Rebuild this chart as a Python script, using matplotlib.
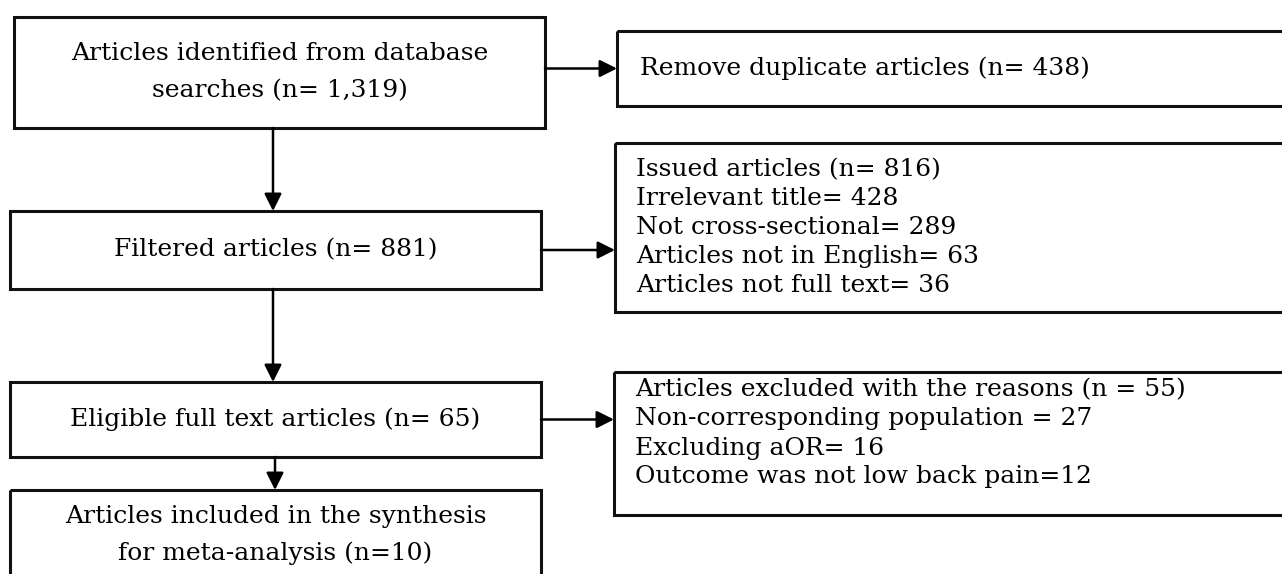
import matplotlib.pyplot as plt
from matplotlib.patches import Rectangle

# Box texts of the flow diagram
main_steps = [
    ["Articles identified from database", "searches (n= 1,319)"],
    ["Filtered articles (n= 881)"],
    ["Eligible full text articles (n= 65)"],
    ["Articles included in the synthesis", "for meta-analysis (n=10)"],
]
side_steps = [
    ["Remove duplicate articles (n= 438)"],
    ["Issued articles (n= 816)",
     "Irrelevant title= 428",
     "Not cross-sectional= 289",
     "Articles not in English= 63",
     "Articles not full text= 36"],
    ["Articles excluded with the reasons (n = 55)",
     "Non-corresponding population = 27",
     "Excluding aOR= 16",
     "Outcome was not low back pain=12"],
]

# layout in pixels (x0, y0, x1, y1), y grows downwards
main_boxes = [(14, 17, 545, 128), (10, 211, 541, 289), (10, 382, 541, 457), (10, 490, 541, 600)]
side_boxes = [(617, 31, 1300, 106), (615, 143, 1300, 312), (614, 372, 1300, 515)]
side_text_x = [640, 636, 635]
line_h = 29

W, H = 1282, 574
fig = plt.figure(figsize=(W / 100, H / 100), dpi=100)
ax = fig.add_axes([0, 0, 1, 1])
ax.set_xlim(0, W)
ax.set_ylim(H, 0)
ax.axis('off')

font = dict(family='DejaVu Serif', fontsize=18, color='black')

def box(b):
    x0, y0, x1, y1 = b
    ax.add_patch(Rectangle((x0, y0), x1 - x0, y1 - y0, fill=False,
                           edgecolor='#111111', linewidth=2.2))

def arrow(p0, p1):
    ax.annotate('', xy=p1, xytext=p0,
                arrowprops=dict(arrowstyle='-|>', mutation_scale=26, lw=1.8,
                                color='black', shrinkA=0, shrinkB=0))

# main column
for lines, b in zip(main_steps, main_boxes):
    box(b)
    cx = (b[0] + b[2]) / 2
    cy = (b[1] + min(b[3], 580)) / 2
    n = len(lines)
    for i, t in enumerate(lines):
        ax.text(cx, cy + (i - (n - 1) / 2) * 37, t, ha='center', va='center', **font)

# side column
for lines, b, tx in zip(side_steps, side_boxes, side_text_x):
    box(b)
    n = len(lines)
    cy = (b[1] + b[3]) / 2
    if n == 4:
        cy -= 10
    for i, t in enumerate(lines):
        ax.text(tx, cy + (i - (n - 1) / 2) * line_h, t, ha='left', va='center', **font)

# vertical arrows
for a, b in zip(main_boxes[:-1], main_boxes[1:]):
    x = 273 if b[1] < 480 else 275
    arrow((x, a[3]), (x, b[1]))

# horizontal arrows
for m, s in zip(main_boxes[:3], side_boxes):
    y = (m[1] + m[3]) / 2 if m[1] > 100 else (s[1] + s[3]) / 2
    arrow((m[2], y), (s[0], y))

fig.savefig('out.png', dpi=100, facecolor='white')
